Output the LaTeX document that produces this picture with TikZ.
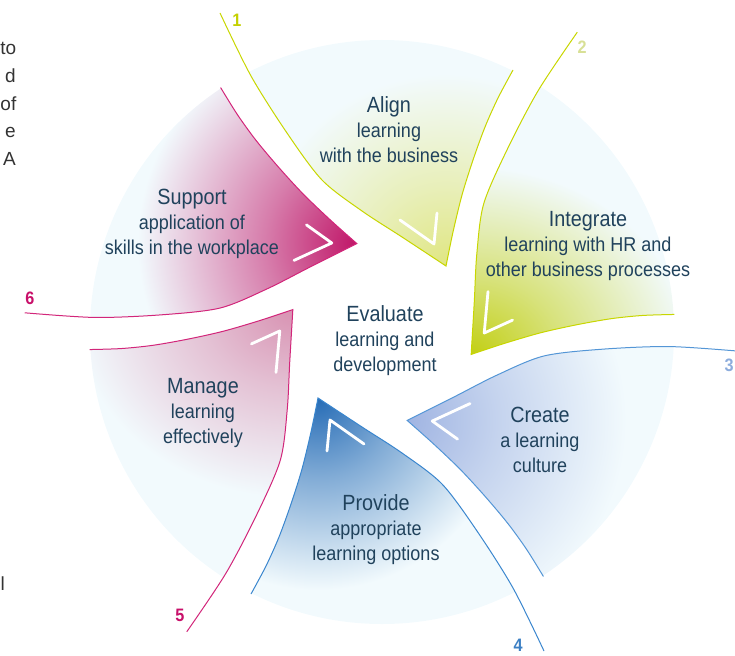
\documentclass[tikz,border=0pt]{standalone}
\usepackage{fontspec}
\setmainfont[FakeStretch=0.9]{Liberation Sans}
\newfontfamily\pagefont{Liberation Sans}

\definecolor{txt}{RGB}{32,66,92}
\definecolor{rimcol}{RGB}{242,250,253}
\definecolor{lime}{RGB}{200,214,0}
\definecolor{limefill}{RGB}{194,207,20}
\definecolor{palelime}{RGB}{224,230,130}
\definecolor{skyline}{RGB}{84,150,214}
\definecolor{skyfill}{RGB}{160,180,226}
\definecolor{blueline}{RGB}{58,134,206}
\definecolor{bluefill}{RGB}{38,108,182}
\definecolor{rose}{RGB}{210,38,122}
\definecolor{rosefill}{RGB}{216,146,178}
\definecolor{plum}{RGB}{192,22,104}
\colorlet{bladecol}{plum}

% colour of the tip fading out to the pale rim
\pgfdeclareradialshading[bladecol]{bladeshade}{\pgfpoint{0bp}{0bp}}{color(0bp)=(bladecol); color(5bp)=(bladecol!55!rimcol); color(12bp)=(rimcol); color(50bp)=(rimcol)}

% one blade of the wheel, drawn at the top and turned round (c)
\newcommand\bladeshape{plot[smooth] coordinates {(220,13) (251,76) (287,133) (322,180) (362,211) (402,237) (446,266)}
  -- plot[smooth] coordinates {(446,266) (453,232) (462,195) (473,160) (485,127) (498,98) (513,70)}}
% the same blade, closed far outside the rim
\newcommand\bladearea{\bladeshape -- (360,-250) -- cycle}

\begin{document}
\begin{tikzpicture}[x=1pt,y=-1pt,
  bladeline/.style={line width=1pt},
  arrowmark/.style={white,line width=2.8pt,line cap=round,line join=round},
  blurb/.style={txt,align=center,anchor=base,font=\fontsize{20}{25}\selectfont},
  stepnum/.style={font=\bfseries\fontsize{18}{18}\selectfont},
  cutoff/.style={font=\pagefont\fontsize{19}{19}\selectfont,text={rgb,255:red,51;green,51;blue,51},anchor=base east,inner sep=0pt}]
\useasboundingbox (0,0) rectangle (735,655);
\coordinate (c) at (382,332);

% Blades
\begin{scope}
  \colorlet{bladecol}{palelime}
  \begin{scope} \clip (c) circle (292); \clip \bladearea; \shade[shading=bladeshade] (446,266) circle (400); \end{scope}
  \draw[bladeline,lime] \bladeshape;
  \draw[arrowmark] (400,220) -- (434,244) -- (437,213);
\end{scope}
\begin{scope}[rotate around={-60:(c)}]
  \colorlet{bladecol}{limefill}
  \begin{scope} \clip (c) circle (292); \clip \bladearea; \shade[shading=bladeshade] (446,266) circle (400); \end{scope}
  \draw[bladeline,lime] \bladeshape;
  \draw[arrowmark] (400,220) -- (434,244) -- (437,213);
\end{scope}
\begin{scope}[rotate around={-120:(c)}]
  \colorlet{bladecol}{skyfill}
  \begin{scope} \clip (c) circle (292); \clip \bladearea; \shade[shading=bladeshade] (446,266) circle (400); \end{scope}
  \draw[bladeline,skyline] \bladeshape;
  \draw[arrowmark] (400,220) -- (434,244) -- (437,213);
\end{scope}
\begin{scope}[rotate around={-180:(c)}]
  \colorlet{bladecol}{bluefill}
  \begin{scope} \clip (c) circle (292); \clip \bladearea; \shade[shading=bladeshade] (446,266) circle (400); \end{scope}
  \draw[bladeline,blueline] \bladeshape;
  \draw[arrowmark] (400,220) -- (434,244) -- (437,213);
\end{scope}
\begin{scope}[rotate around={-240:(c)}]
  \colorlet{bladecol}{rosefill}
  \begin{scope} \clip (c) circle (292); \clip \bladearea; \shade[shading=bladeshade] (446,266) circle (400); \end{scope}
  \draw[bladeline,rose] \bladeshape;
  \draw[arrowmark] (400,220) -- (434,244) -- (437,213);
\end{scope}
\begin{scope}[rotate around={-300:(c)}]
  \colorlet{bladecol}{plum}
  \begin{scope} \clip (c) circle (292); \clip \bladearea; \shade[shading=bladeshade] (446,266) circle (400); \end{scope}
  \draw[bladeline,rose] \bladeshape;
  \draw[arrowmark] (400,220) -- (434,244) -- (437,213);
\end{scope}

% Texts
\node[blurb] (align) at (389,162) {{\fontsize{22}{25}\selectfont Align}\\learning\\with the business};
\node[blurb] (integrate) at (588,276) {{\fontsize{22}{25}\selectfont Integrate}\\learning with HR and\\other business processes};
\node[blurb] (create) at (540,472) {{\fontsize{22}{25}\selectfont Create}\\a learning\\culture};
\node[blurb] (provide) at (376,560) {{\fontsize{22}{25}\selectfont Provide}\\appropriate\\learning options};
\node[blurb] (manage) at (203,443) {{\fontsize{22}{25}\selectfont Manage}\\learning\\effectively};
\node[blurb] (support) at (192,254) {{\fontsize{22}{25}\selectfont Support}\\application of\\skills in the workplace};
\node[blurb] (evaluate) at (385,371) {{\fontsize{22}{25}\selectfont Evaluate}\\learning and\\development};

% Step numbers
\node[stepnum,text={rgb,255:red,196;green,208;blue,0}] (n1) at (237,20) {1};
\node[stepnum,text={rgb,255:red,216;green,224;blue,150}] (n2) at (582,47) {2};
\node[stepnum,text={rgb,255:red,140;green,172;blue,220}] (n3) at (729,365) {3};
\node[stepnum,text={rgb,255:red,60;green,128;blue,196}] (n4) at (518,645) {4};
\node[stepnum,text={rgb,255:red,200;green,16;blue,106}] (n5) at (180,615) {5};
\node[stepnum,text={rgb,255:red,200;green,16;blue,106}] (n6) at (30,298) {6};

% cut-off text of the page
\node[cutoff] (p1) at (16.5,55) {to};
\node[cutoff] (p2) at (16,83) {d};
\node[cutoff] (p3) at (16.5,111) {of};
\node[cutoff] (p4) at (16,138) {e};
\node[cutoff] (p5) at (16,165) {A};
\node[cutoff] (p6) at (5,590) {l};
\end{tikzpicture}
\end{document}
